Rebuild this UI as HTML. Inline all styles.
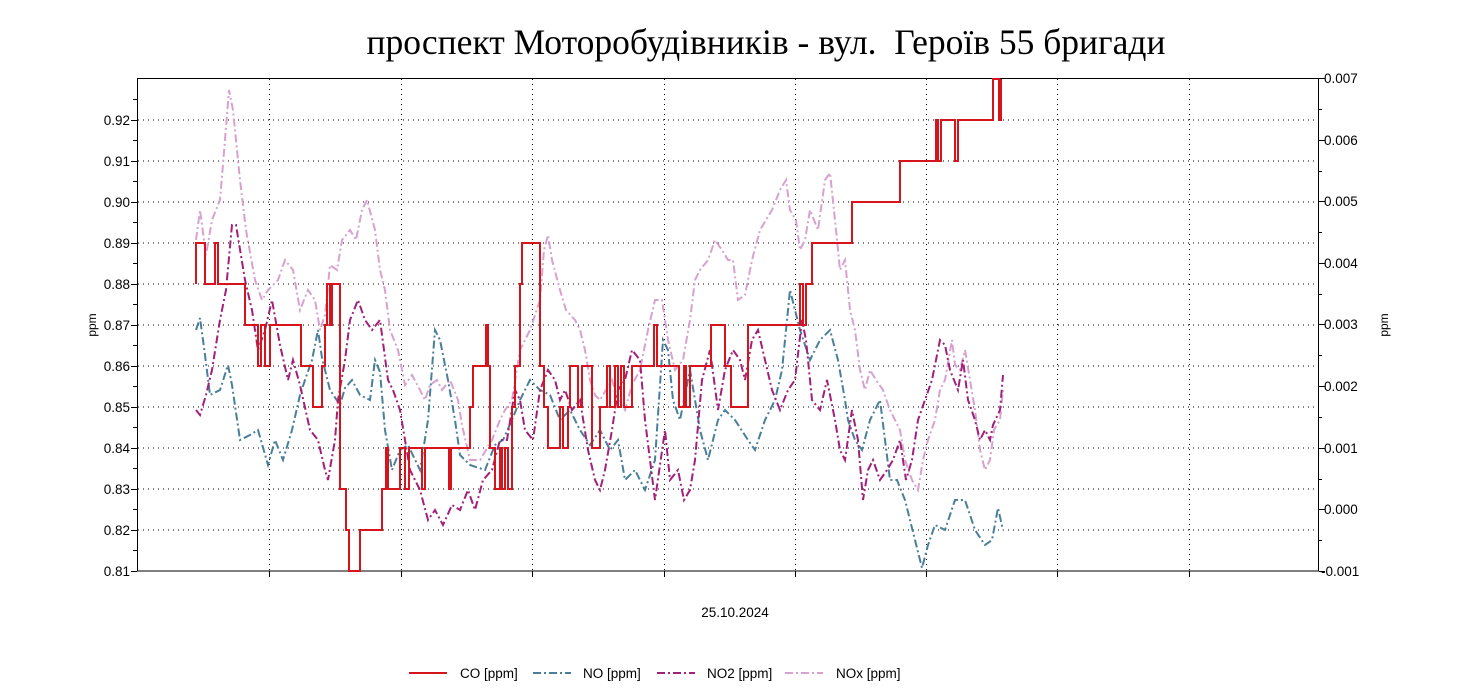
<!DOCTYPE html>
<html><head><meta charset="utf-8"><style>
html,body{margin:0;padding:0;background:#fff;}
svg{display:block;font-family:"Liberation Sans",sans-serif;}
</style></head><body>
<svg width="1471" height="697" viewBox="0 0 1471 697" xmlns="http://www.w3.org/2000/svg">
<rect width="1471" height="697" fill="#fff"/>
<text x="766" y="54" text-anchor="middle" font-family="Liberation Serif, serif" font-size="35.5" fill="#000">проспект Моторобудівників - вул.&#160; Героїв 55 бригади</text>
<g stroke="#000" stroke-width="1" stroke-dasharray="1,4" fill="none">
<path d="M138,120H1318M138,161H1318M138,202H1318M138,243H1318M138,284H1318M138,325H1318M138,366H1318M138,407H1318M138,448H1318M138,489H1318M138,530H1318"/>
<path d="M269.5,79V570M401.5,79V570M532.5,79V570M664.5,79V570M795.5,79V570M926.5,79V570M1057.5,79V570M1189.5,79V570"/>
</g>
<rect x="137.5" y="78.5" width="1181" height="492.5" fill="none" stroke="#000" stroke-width="1"/>
<g stroke="#000" stroke-width="1">
<path d="M131,571.5H137M133,550.5H137M131,530.5H137M133,509.5H137M131,489.5H137M133,468.5H137M131,448.5H137M133,427.5H137M131,407.5H137M133,386.5H137M131,366.5H137M133,345.5H137M131,325.5H137M133,304.5H137M131,284.5H137M133,263.5H137M131,243.5H137M133,222.5H137M131,202.5H137M133,181.5H137M131,161.5H137M133,140.5H137M131,120.5H137M133,99.5H137"/>
<path d="M1319,78.5H1325M1319,109.5H1322M1319,140.5H1325M1319,171.5H1322M1319,201.5H1325M1319,232.5H1322M1319,263.5H1325M1319,294.5H1322M1319,324.5H1325M1319,355.5H1322M1319,386.5H1325M1319,417.5H1322M1319,448.5H1325M1319,479.5H1322M1319,509.5H1325M1319,540.5H1322M1319,571.5H1325"/>
<path d="M269.5,571V577M401.5,571V577M532.5,571V577M664.5,571V577M795.5,571V577M926.5,571V577M1057.5,571V577M1189.5,571V577"/>
</g>
<g font-size="13.5" fill="#000" text-anchor="end">
<text x="130" y="576">0.81</text><text x="130" y="535">0.82</text><text x="130" y="494">0.83</text><text x="130" y="453">0.84</text><text x="130" y="412">0.85</text><text x="130" y="371">0.86</text><text x="130" y="330">0.87</text><text x="130" y="289">0.88</text><text x="130" y="248">0.89</text><text x="130" y="207">0.90</text><text x="130" y="166">0.91</text><text x="130" y="125">0.92</text>
</g>
<g font-size="13.5" fill="#000">
<text x="1324" y="83">0.007</text><text x="1324" y="145">0.006</text><text x="1324" y="206">0.005</text><text x="1324" y="268">0.004</text><text x="1324" y="329">0.003</text><text x="1324" y="391">0.002</text><text x="1324" y="453">0.001</text><text x="1324" y="514">0.000</text><text x="1321" y="576">-0.001</text>
</g>
<text transform="translate(96,325) rotate(-90)" font-size="12" text-anchor="middle">ppm</text>
<text transform="translate(1388,325) rotate(-90)" font-size="12" text-anchor="middle">ppm</text>
<text x="735" y="617" font-size="13.5" text-anchor="middle">25.10.2024</text>

<polyline fill="none" stroke="#d8a2d0" stroke-width="2" stroke-dasharray="8,3,2,3" points="196,240 200,210 206,255 212,220 220,200 225,140 229,90 233,110 240,180 246,230 255,280 262,300 268,290 278,280 285,260 293,270 300,310 308,290 315,300 320,330 325,315 330,265 337,270 342,240 350,230 356,240 362,210 367,200 375,230 380,270 385,290 390,330 398,350 405,385 412,375 420,390 425,400 430,385 437,380 442,390 450,380 458,400 462,425 470,460 480,460 492,440 500,420 505,410 512,400 520,350 530,330 540,300 544,250 548,235 552,260 560,290 566,310 575,320 580,330 585,350 590,380 595,395 600,400 606,390 612,380 618,400 625,410 632,385 640,370 648,330 655,300 662,300 668,340 675,370 683,360 690,320 695,280 700,270 708,260 715,240 722,250 728,260 733,260 738,300 745,295 752,260 760,230 766,220 772,210 780,190 786,180 790,210 796,220 800,250 805,240 810,210 818,230 825,180 830,173 835,220 840,270 845,260 850,310 855,330 860,370 865,390 870,370 876,380 883,390 890,410 895,420 900,430 905,460 912,480 918,490 923,460 928,440 935,420 940,390 945,380 952,340 955,365 960,370 965,350 970,380 975,410 980,450 985,470 990,460 994,430 1000,420 1003,390"/>
<polyline fill="none" stroke="#4a7f9a" stroke-width="2" stroke-dasharray="8,3,2,3" points="196,330 200,318 205,355 210,395 220,390 228,365 232,385 240,440 250,435 258,430 268,465 275,440 283,460 292,430 300,395 305,380 312,360 318,330 322,358 330,390 340,405 345,388 352,380 360,395 370,400 375,360 380,372 385,430 392,470 400,450 408,445 420,470 428,420 435,330 440,340 448,380 455,420 460,455 470,465 485,470 495,445 503,440 512,420 520,400 530,380 540,390 550,395 560,420 570,410 580,430 590,445 600,430 610,450 618,440 625,480 635,470 645,490 655,460 663,340 668,350 673,400 680,420 690,370 700,430 708,460 718,420 725,410 735,420 748,440 755,450 765,420 775,400 782,370 790,290 800,330 810,360 820,340 830,330 838,360 845,400 848,420 855,440 862,450 870,420 880,400 890,480 897,480 905,500 915,540 922,568 928,545 935,525 945,530 955,500 965,500 975,530 985,545 992,540 998,508 1003,530"/>
<polyline fill="none" stroke="#a0207a" stroke-width="2" stroke-dasharray="8,3,2,3" points="196,410 200,415 206,395 212,370 220,320 226,290 232,225 236,225 245,280 252,310 258,350 265,330 272,300 280,345 288,380 293,360 300,385 310,430 318,440 325,470 328,480 335,440 338,400 345,360 350,320 358,300 365,320 372,330 380,320 388,380 393,390 400,410 405,440 410,470 420,490 428,520 435,510 443,525 452,505 460,510 468,490 475,510 483,480 492,470 500,440 507,440 515,390 520,400 525,430 533,440 540,390 548,370 555,380 560,400 565,390 572,410 580,400 588,450 595,480 600,490 605,470 612,430 618,390 625,380 632,350 640,360 645,420 650,460 655,500 665,430 670,480 678,470 684,500 690,490 695,460 702,380 710,350 718,410 725,370 733,350 740,360 745,380 752,340 758,330 765,360 772,390 780,410 788,390 795,380 802,320 806,340 812,400 820,410 827,380 835,420 840,450 845,460 852,410 858,440 863,500 868,470 873,460 880,480 887,470 893,460 900,440 906,480 912,460 918,420 925,400 932,380 940,340 945,345 950,370 958,390 963,360 968,400 975,420 980,440 985,430 990,440 993,425 1000,410 1003,375"/>
<path fill="none" stroke="#d7141c" stroke-width="2" d="M196,284 V243 H205 V284 H215 V243 H218 V284 H245 V325 H258 V366 H261 V325 H265 V366 H270 V325 H301 V366 H313 V407 H322 V366 H325 V325 H327 V284 H330 V325 H332 V284 H340 V489 H346 V530 H349 V571 H360 V530 H382 V489 H386 V448 H388 V489 H400 V448 H405 V489 H409 V448 H422 V489 H425 V448 H449 V489 H451 V448 H470 V407 H473 V366 H486 V325 H488 V366 H490 V448 H495 V489 H500 V448 H502 V489 H505 V448 H508 V489 H512 V407 H515 V366 H520 V284 H522 V243 H540 V366 H544 V407 H548 V448 H560 V407 H563 V448 H568 V407 H570 V366 H578 V407 H582 V366 H592 V448 H600 V407 H607 V366 H610 V407 H615 V366 H618 V407 H621 V366 H624 V407 H632 V366 H654 V325 H657 V366 H679 V407 H684 V366 H686 V407 H690 V366 H711 V325 H725 V366 H731 V407 H748 V325 H800 V284 H803 V325 H806 V284 H812 V243 H852 V202 H900 V161 H936 V120 H938 V161 H941 V120 H955 V161 H958 V120 H993 V79 H999 V120 H1001 V79"/>

<g stroke-width="2">
<line x1="409" y1="673" x2="447" y2="673" stroke="#d7141c"/>
<line x1="533" y1="673" x2="571" y2="673" stroke="#4a7f9a" stroke-dasharray="8,3,2,3"/>
<line x1="657" y1="673" x2="695" y2="673" stroke="#a0207a" stroke-dasharray="8,3,2,3"/>
<line x1="785" y1="673" x2="823" y2="673" stroke="#d8a2d0" stroke-dasharray="8,3,2,3"/>
</g>
<g font-size="13.5" fill="#000">
<text x="460" y="678">CO [ppm]</text><text x="583" y="678">NO [ppm]</text><text x="707" y="678">NO2 [ppm]</text><text x="836" y="678">NOx [ppm]</text>
</g>
</svg>
</body></html>
